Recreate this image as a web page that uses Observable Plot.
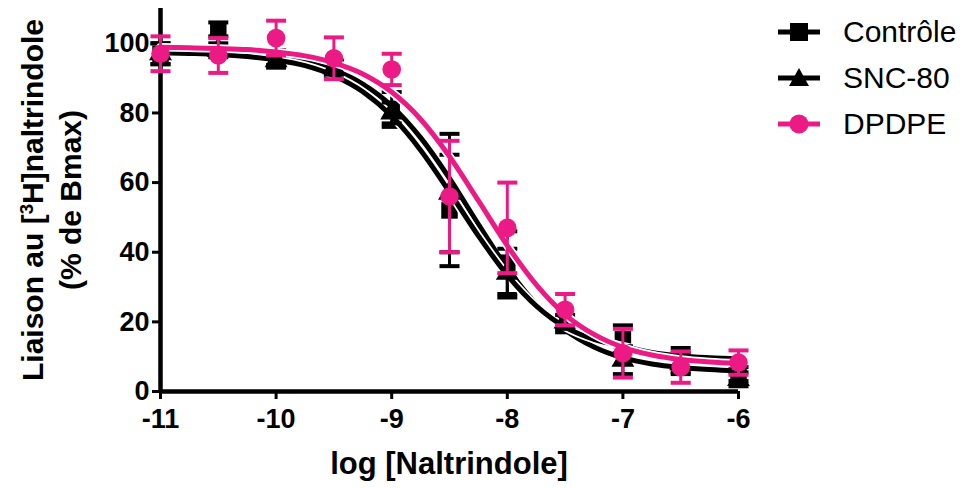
<!DOCTYPE html>
<html><head><meta charset="utf-8">
<script src="https://cdn.jsdelivr.net/npm/d3@7"></script>
<script src="https://cdn.jsdelivr.net/npm/@observablehq/plot@0.6"></script>
<style>
body{margin:0;background:#fff;}
#wrap{position:relative;width:963px;height:488px;font-family:"Liberation Sans",Arial,sans-serif;color:#000;}
.ov{position:absolute;white-space:nowrap;}
</style></head><body><div id="wrap"></div>
<script>
// ---- data ----
const seriesNames = ["Contrôle", "SNC-80", "DPDPE"];
const seriesColors = ["#000000", "#000000", "#ec1a84"];
const seriesSymbols = ["square", "triangle", "circle"];

const logDose = [-11, -10.5, -10, -9.5, -9, -8.5, -8, -7.5, -7, -6.5, -6];
const controleMean = [97, 104, 96, 92.5, 81, 52, 37, 19, 15, 9, 5];
const controleErr  = [3, 2, 2, 2, 5, 16, 9, 2, 4, 3.5, 2];
const snc80Mean    = [97, 98, 95, 93, 80, 57, 34, 20, 9, 8, 3.5];
const snc80Err     = [3, 2, 2, 2, 3, 17, 7, 2, 4, 3, 2];
const dpdpeMean    = [97, 96.5, 101.5, 95.7, 92.5, 56, 47, 23.5, 11, 7, 8.3];
const dpdpeErr     = [5, 5, 5, 6, 4.5, 16, 13, 4.5, 7, 4.5, 3.5];

// fitted curves
const curveDose = [-11, -10.75, -10.5, -10.25, -10, -9.75, -9.5, -9.25, -9, -8.75, -8.5,
                   -8.25, -8, -7.75, -7.5, -7.25, -7, -6.75, -6.5, -6.25, -6];
const controleFit = [97.8, 97.7, 97.4, 96.9, 96.1, 94.7, 92.3, 88.3, 82.0, 72.9, 61.2,
                     48.0, 35.4, 25.1, 17.7, 12.8, 9.7, 7.9, 6.9, 6.3, 5.9];
const snc80Fit    = [97.3, 97.1, 96.8, 96.2, 95.2, 93.6, 90.7, 86.1, 79.1, 69.3, 57.3,
                     44.7, 33.4, 24.6, 18.5, 15.0, 13.0, 11.2, 10.2, 9.7, 9.4];
const dpdpeFit    = [98.9, 98.7, 98.5, 98.2, 97.5, 96.4, 94.4, 91.2, 86.0, 78.2, 67.5,
                     54.8, 41.9, 30.7, 22.1, 16.4, 12.7, 10.5, 9.2, 8.5, 8.1];

const xTicks = [-11, -10, -9, -8, -7, -6];
const yTicks = [0, 20, 40, 60, 80, 100];
const xDomain = [-11, -6];
const yDomain = [0, 110];

// ---- build tables ----
const means = [controleMean, snc80Mean, dpdpeMean];
const errs = [controleErr, snc80Err, dpdpeErr];
const fits = [controleFit, snc80Fit, dpdpeFit];

const points = [];
seriesNames.forEach((s, i) => logDose.forEach((x, j) =>
  points.push({series: s, x, y: means[i][j], lo: means[i][j] - errs[i][j], hi: means[i][j] + errs[i][j]})));
const curves = [];
seriesNames.forEach((s, i) => curveDose.forEach((x, j) => curves.push({series: s, x, y: fits[i][j]})));

const capSymbol = {draw(ctx) { ctx.moveTo(-10, 0); ctx.lineTo(10, 0); }};

const seriesMarks = [];
seriesNames.forEach((s, i) => {
  const c = seriesColors[i];
  const pts = points.filter(d => d.series === s);
  const cv = curves.filter(d => d.series === s);
  seriesMarks.push(
    Plot.line(cv, {x: "x", y: "y", stroke: "#fff", strokeWidth: 8.5, curve: "monotone-x"}),
    Plot.line(cv, {x: "x", y: "y", stroke: c, strokeWidth: 5, curve: "monotone-x"}),
    Plot.ruleX(pts, {x: "x", y1: "lo", y2: "hi", stroke: c, strokeWidth: 3}),
    Plot.dot(pts, {x: "x", y: "hi", symbol: capSymbol, stroke: c, strokeWidth: 4, fill: "none"}),
    Plot.dot(pts, {x: "x", y: "lo", symbol: capSymbol, stroke: c, strokeWidth: 4, fill: "none"}),
    Plot.dot(pts, {x: "x", y: "y", symbol: seriesSymbols[i], fill: c, stroke: "none",
                   r: seriesSymbols[i] === "triangle" ? 8.5 : 9.3})
  );
});

const chart = Plot.plot({
  width: 963, height: 488,
  marginTop: 8, marginRight: 225, marginBottom: 97, marginLeft: 160,
  style: {fontFamily: "'Liberation Sans', Arial, sans-serif", fontWeight: "bold", background: "transparent", overflow: "visible"},
  x: {domain: xDomain},
  y: {domain: yDomain},
  marks: [
    Plot.axisY(yTicks, {tickSize: 8, tickPadding: 3, strokeWidth: 3, fontSize: 27, tickFormat: d => String(d), label: null}),
    Plot.axisX(xTicks, {tickSize: 8, tickPadding: 9, strokeWidth: 3, fontSize: 27, tickFormat: d => String(d), label: null}),
    Plot.ruleX([xDomain[0]], {y1: yDomain[0], y2: yDomain[1], strokeWidth: 4.5}),
    Plot.ruleY([yDomain[0]], {x1: xDomain[0], x2: xDomain[1], strokeWidth: 4.5}),
    ...seriesMarks
  ]
});

const wrap = document.getElementById("wrap");
wrap.appendChild(chart);
chart.style.position = "absolute";
chart.style.left = "0px";
chart.style.top = "0px";

// axis titles
function addDiv(html, css) {
  const d = document.createElement("div");
  d.className = "ov";
  d.innerHTML = html;
  Object.assign(d.style, css);
  wrap.appendChild(d);
  return d;
}
addDiv("log [Naltrindole]", {left: "160px", width: "578px", top: "447px", textAlign: "center",
  fontSize: "31px", fontWeight: "bold", lineHeight: "34px"});
addDiv("Liaison au [<span style='font-size:0.62em;position:relative;top:-0.55em'>3</span>H]naltrindole",
  {left: (33 - 210) + "px", top: (200 - 17) + "px", width: "420px", height: "34px", lineHeight: "34px",
   textAlign: "center", fontSize: "30px", fontWeight: "bold", transform: "rotate(-90deg)"});
addDiv("(% de Bmax)",
  {left: (71 - 210) + "px", top: (200 - 17) + "px", width: "420px", height: "34px", lineHeight: "34px",
   textAlign: "center", fontSize: "30px", fontWeight: "bold", transform: "rotate(-90deg)"});

// legend
const legendY = [32, 78, 124];
seriesNames.forEach((s, i) => {
  const c = seriesColors[i];
  const row = document.createElement("div");
  row.className = "ov";
  Object.assign(row.style, {left: "776px", top: (legendY[i] - 18) + "px", height: "36px", display: "flex", alignItems: "center"});
  const sym = seriesSymbols[i];
  let shape;
  if (sym === "square") shape = `<rect x="14" y="9" width="18" height="18" fill="${c}"/>`;
  else if (sym === "triangle") shape = `<path d="M23 8 L33 26 L13 26 Z" fill="${c}"/>`;
  else shape = `<circle cx="23" cy="18" r="9.5" fill="${c}"/>`;
  row.innerHTML = `<svg width="46" height="36"><line x1="2" x2="44" y1="18" y2="18" stroke="${c}" stroke-width="5"/>${shape}</svg>` +
    `<span style="margin-left:21px;font-size:30px;line-height:36px">${s}</span>`;
  wrap.appendChild(row);
});
</script>
</body></html>
